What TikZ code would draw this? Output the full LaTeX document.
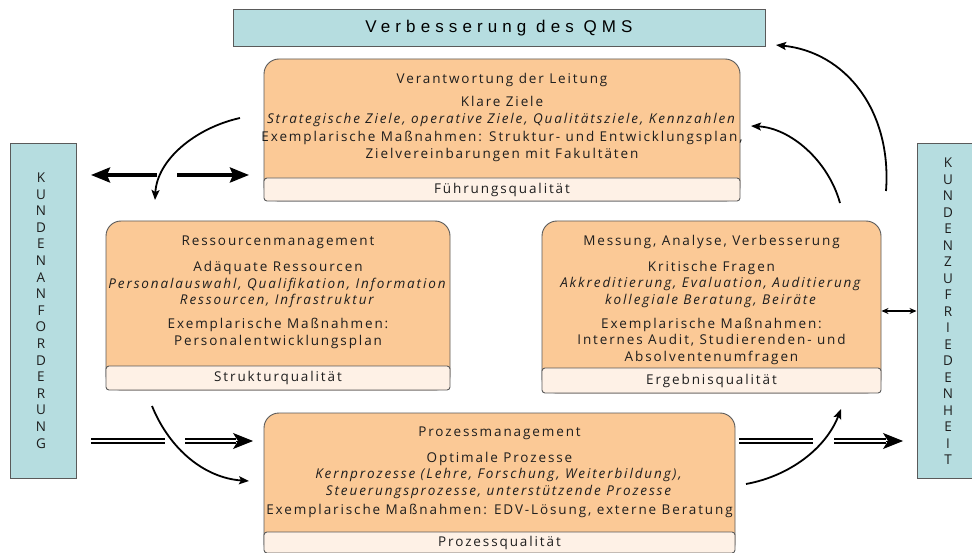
\documentclass[tikz,border=0pt]{standalone}
\usepackage{fontspec}
\setmainfont{Open Sans}[LetterSpace=14]
\newfontfamily\titlefont{Liberation Sans}[LetterSpace=30]
\newfontfamily\lettfont{Open Sans}
\usetikzlibrary{arrows.meta}

\definecolor{qmsteal}{RGB}{182,221,224}
\definecolor{qmsorange}{RGB}{251,201,150}
\definecolor{qmsbar}{RGB}{254,241,230}
\definecolor{qmsline}{RGB}{90,90,90}
\definecolor{qmstext}{RGB}{30,30,30}

\tikzset{
  tealbox/.style={draw=qmsline, fill=qmsteal, line width=1pt, inner sep=0pt},
  orangebox/.style={draw=qmsline, fill=qmsorange, line width=0.9pt, rounded corners=15pt, inner sep=0pt},
  barbox/.style={draw=qmsline, fill=qmsbar, line width=0.9pt, rounded corners=3pt, inner sep=0pt,
    text=qmstext, font=\fontsize{13.5}{15}\selectfont},
  boxtext/.style={align=center, inner sep=0pt, text=qmstext, font=\fontsize{13.5}{16.6}\selectfont},
  lettcol/.style={align=center, text=qmstext, font=\lettfont\fontsize{13.5}{16.6}\selectfont},
  bigarrow/.style={line width=3.5pt, -{Stealth[length=19pt,width=15pt,inset=3pt]}},
  dblline/.style={double, line width=2pt, double distance=2.5pt},
  dbltip/.style={line width=1pt, -{Stealth[length=20pt,width=16pt,inset=5pt]}},
  bendarrow/.style={line width=1.8pt, -{Stealth[length=10pt,width=8pt,inset=2pt]}},
  smallarrow/.style={line width=1.2pt, {Stealth[length=7pt,width=6pt]}-{Stealth[length=7pt,width=6pt]}}
}

\begin{document}
\begin{tikzpicture}[x=1pt,y=-1pt]
    \useasboundingbox (0,0) rectangle (972,553);
    \fill[white] (0,0) rectangle (972,553);
    \clip (0,0) rectangle (972,553);

    % Kopf und Seitenleisten
    \node[tealbox, minimum width=532pt, minimum height=37pt] (verb) at (499,28.5)
        {\titlefont\fontsize{17}{20}\selectfont Verbesserung des QMS};
    \node[tealbox, minimum width=66pt, minimum height=334pt] (kanf) at (43,311) {};
    \node[tealbox, minimum width=66pt, minimum height=334pt] (kzuf) at (950,311) {};
    \node[lettcol] (kanftext) at (41,310.5)
        {K\\U\\N\\D\\E\\N\\A\\N\\F\\O\\R\\D\\E\\R\\U\\N\\G};
    \node[lettcol, font=\lettfont\fontsize{13.5}{16.5}\selectfont] (kzuftext) at (948,311.5)
        {K\\U\\N\\D\\E\\N\\Z\\U\\F\\R\\I\\E\\D\\E\\N\\H\\E\\I\\T};

    % Verantwortung der Leitung
    \node[orangebox, minimum width=476pt, minimum height=142pt] (leit) at (502,130) {};
    \node[barbox, minimum width=476pt, minimum height=23pt] (leitbar) at (502,189.5) {Führungsqualität};
    \node[boxtext] (leittext) at (502,117.5)
        {Verantwortung der Leitung\\[6pt]
         Klare Ziele\\
         \textit{Strategische Ziele, operative Ziele, Qualitätsziele, Kennzahlen}\\[2pt]
         Exemplarische Maßnahmen: Struktur- und Entwicklungsplan,\\
         Zielvereinbarungen mit Fakultäten};

    % Ressourcenmanagement
    \node[orangebox, minimum width=344pt, minimum height=169pt] (ress) at (278,305.5) {};
    \node[barbox, minimum width=344pt, minimum height=24pt] (ressbar) at (278,378) {Strukturqualität};
    \node[boxtext] (resstext) at (278,292)
        {Ressourcenmanagement\\[10pt]
         Adäquate Ressourcen\\
         \textit{Personalauswahl, Qualifikation, Information}\\
         \textit{Ressourcen, Infrastruktur}\\[7pt]
         Exemplarische Maßnahmen:\\
         Personalentwicklungsplan};

    % Messung, Analyse, Verbesserung
    \node[orangebox, minimum width=339pt, minimum height=172pt] (mess) at (711.5,307) {};
    \node[barbox, minimum width=339pt, minimum height=25pt] (messbar) at (711.5,380.5) {Ergebnisqualität};
    \node[boxtext] (messtext) at (711.5,300)
        {Messung, Analyse, Verbesserung\\[9pt]
         Kritische Fragen\\
         \textit{Akkreditierung, Evaluation, Auditierung}\\
         \textit{kollegiale Beratung, Beiräte}\\[7pt]
         Exemplarische Maßnahmen:\\
         Internes Audit, Studierenden- und\\
         Absolventenumfragen};

    % Prozessmanagement
    \node[orangebox, minimum width=471pt, minimum height=145pt] (proz) at (499.5,485.5) {};
    \node[barbox, minimum width=471pt, minimum height=21pt] (prozbar) at (499.5,542.5) {Prozessqualität};
    \node[boxtext] (prozttext) at (499.5,472.5)
        {Prozessmanagement\\[9pt]
         Optimale Prozesse\\
         \textit{Kernprozesse (Lehre, Forschung, Weiterbildung),}\\
         \textit{Steuerungsprozesse, unterstützende Prozesse}\\[3pt]
         Exemplarische Maßnahmen: EDV-Lösung, externe Beratung};

    % Pfeile links oben
    \coordinate (anfl) at (157,175);
    \coordinate (anfk) at (91,175);
    \coordinate (leitl) at (177,175);
    \coordinate (leitk) at (249,175);
    \draw[bigarrow] (anfl) -- (anfk);
    \draw[bigarrow] (leitl) -- (leitk);

    % Doppelpfeile unten
    \coordinate (kanfo) at (91,441);
    \coordinate (kanfe) at (165,441);
    \coordinate (prozl) at (185,441);
    \coordinate (prozs) at (236,441);
    \coordinate (prozk) at (253,441);
    \draw[dblline] (kanfo) -- (kanfe);
    \draw[dblline] (prozl) -- (prozs);
    \draw[dbltip] (prozs) -- (prozk);

    \coordinate (prozr) at (739,441);
    \coordinate (proze) at (813,441);
    \coordinate (kzufl) at (834,441);
    \coordinate (kzufs) at (886,441);
    \coordinate (kzufk) at (903,441);
    \draw[dblline] (prozr) -- (proze);
    \draw[dblline] (kzufl) -- (kzufs);
    \draw[dbltip] (kzufs) -- (kzufk);

    % Kreislauf
    \coordinate (c1s) at (240,118);
    \coordinate (c1e) at (155,200);
    \draw[bendarrow] (c1s) .. controls (195,128) and (157,160) .. (c1e);
    \coordinate (c2s) at (152,406);
    \coordinate (c2e) at (249,481);
    \draw[bendarrow] (c2s) .. controls (170,450) and (205,478) .. (c2e);
    \coordinate (c3s) at (746,484);
    \coordinate (c3e) at (841,409);
    \draw[bendarrow] (c3s) .. controls (790,476) and (826,448) .. (c3e);
    \coordinate (c4s) at (840,203);
    \coordinate (c4e) at (751,126);
    \draw[bendarrow] (c4s) .. controls (828,160) and (790,128) .. (c4e);
    \coordinate (c5s) at (886,191);
    \coordinate (c5e) at (776,45);
    \draw[bendarrow] (c5s) .. controls (892,110) and (845,52) .. (c5e);

    \draw[smallarrow] (mess.east |- 0,311) -- (kzuf.west |- 0,311);
\end{tikzpicture}
\end{document}
